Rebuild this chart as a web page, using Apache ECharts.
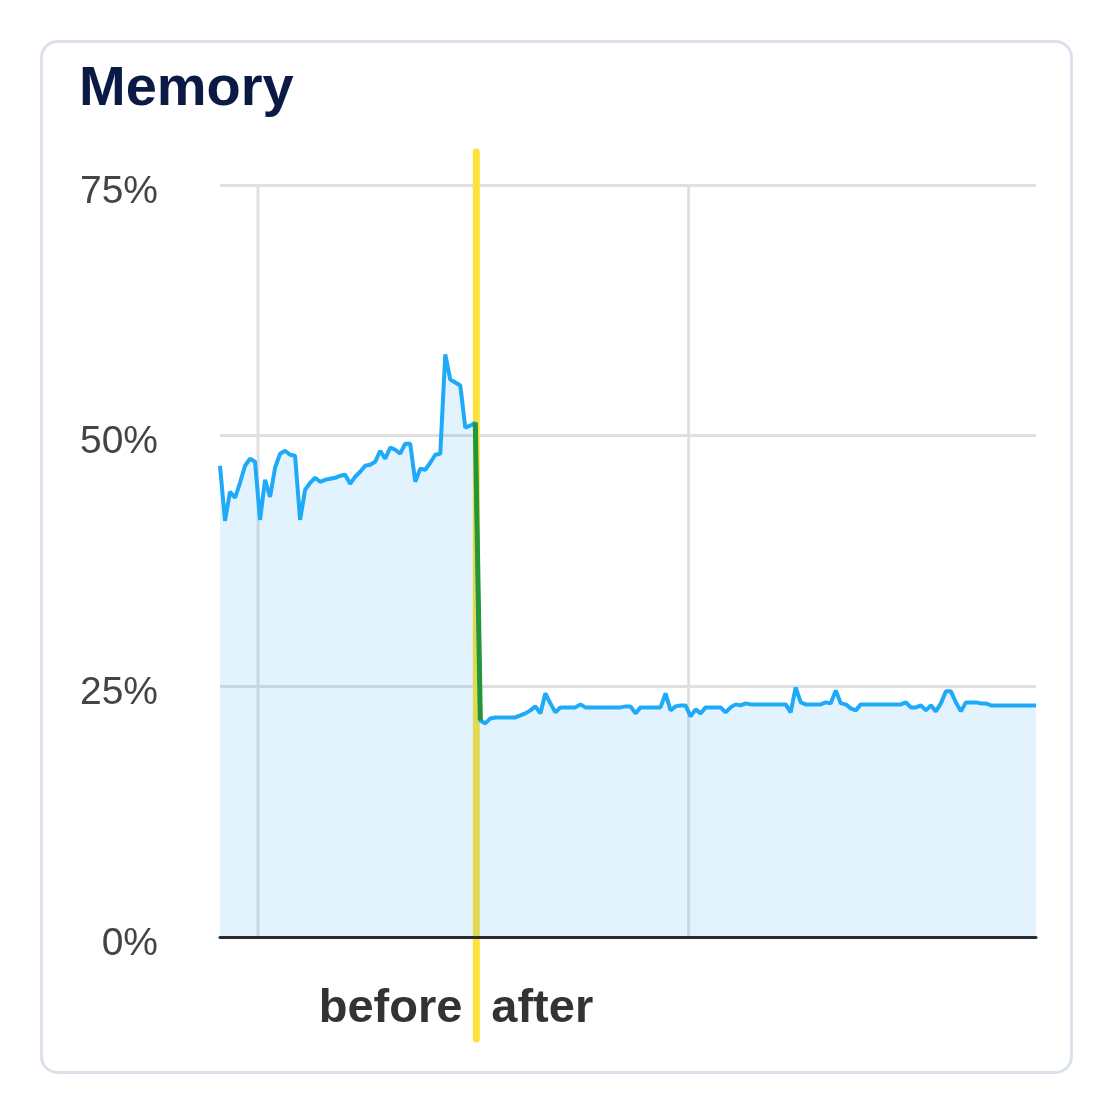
<!DOCTYPE html>
<html>
<head>
<meta charset="utf-8">
<title>Memory</title>
<script src="https://cdn.jsdelivr.net/npm/echarts@6/dist/echarts.min.js"></script>
<style>
    html, body { margin: 0; padding: 0; background: #fff; }
    #memory { width: 1113px; height: 1113px; }
</style>
</head>
<body>
<div id="memory"></div>
<script>
// memory use in percent, one sample per step, before and after the change
var beforePct = [
    47.0, 41.5, 44.4, 43.8, 45.3, 47.0, 47.7, 47.4, 41.6, 45.6,
    43.9, 46.8, 48.2, 48.5, 48.1, 48.0, 41.6, 44.6, 45.3, 45.8,
    45.4, 45.6, 45.7, 45.8, 46.0, 46.1, 45.2, 45.9, 46.4, 47.0,
    47.1, 47.4, 48.5, 47.7, 48.8, 48.6, 48.2, 49.2, 49.2, 45.4,
    46.7, 46.6, 47.3, 48.1, 48.2, 58.1, 55.6, 55.3, 55.0, 50.8,
    51.0, 51.3
];
var afterPct = [
    21.6, 21.3, 21.8, 21.9, 21.9, 21.9, 21.9, 21.9, 22.1, 22.3,
    22.6, 23.0, 22.3, 24.3, 23.3, 22.4, 22.9, 22.9, 22.9, 22.9,
    23.2, 22.9, 22.9, 22.9, 22.9, 22.9, 22.9, 22.9, 22.9, 23.0,
    23.0, 22.3, 22.9, 22.9, 22.9, 22.9, 22.9, 24.3, 22.6, 23.0,
    23.1, 23.1, 22.0, 22.7, 22.3, 22.9, 22.9, 22.9, 22.9, 22.4,
    22.9, 23.2, 23.1, 23.3, 23.2, 23.2, 23.2, 23.2, 23.2, 23.2,
    23.2, 23.2, 22.4, 24.9, 23.4, 23.2, 23.2, 23.2, 23.2, 23.4,
    23.3, 24.6, 23.3, 23.2, 22.8, 22.6, 23.2, 23.2, 23.2, 23.2,
    23.2, 23.2, 23.2, 23.2, 23.2, 23.4, 22.9, 22.9, 23.1, 22.6,
    23.1, 22.5, 23.3, 24.5, 24.5, 23.4, 22.5, 23.4, 23.4, 23.4,
    23.3, 23.3, 23.1, 23.1, 23.1, 23.1, 23.1, 23.1, 23.1, 23.1,
    23.1, 23.1
];
var yTicks = [0, 25, 50, 75];
var timeGrid = [7.6, 93.6];   // vertical grid lines (sample index)
var changeAt = 51.2;          // where the change went in
var phaseLabels = ['before', 'after'];

(function(){
    var myChart = echarts.init(document.getElementById("memory"))
    var font = 'Liberation Sans, Arial, Helvetica, sans-serif';

    var all = beforePct.concat(afterPct);
    var lineData = all.map(function (v, i) {
        return [i, v];
    });
    var n = beforePct.length;
    var dropData = [[n - 1, beforePct[n - 1]], [n, afterPct[0]]];

    option = {
        animation: false,
        title: {
            text: 'Memory',
            left: 74,
            top: 57,
            textStyle: {
                fontFamily: font,
                fontSize: 56,
                fontWeight: 'bold',
                color: '#0a1a45'
            }
        },
        grid: {
            left: 220,
            right: 77,
            top: 185,
            bottom: 176
        },
        xAxis: {
            type: 'value',
            min: 0,
            max: all.length - 1,
            z: 5,
            axisLine: {
                show: true,
                onZero: false,
                lineStyle: { color: '#2b2b2b', width: 3 }
            },
            axisTick: { show: false },
            axisLabel: { show: false },
            splitLine: { show: false }
        },
        yAxis: {
            type: 'value',
            min: yTicks[0],
            max: yTicks[yTicks.length - 1],
            interval: 25,
            axisLine: { show: false },
            axisTick: { show: false },
            axisLabel: {
                formatter: '{value}%',
                fontFamily: font,
                fontSize: 39,
                color: '#444',
                margin: 62,
                verticalAlign: 'top',
                lineHeight: 14
            },
            splitLine: {
                lineStyle: { color: '#e0e0e0', width: 3 }
            }
        },
        series: [
            {
                name: 'memory',
                type: 'line',
                z: 2,
                symbol: 'none',
                data: lineData,
                lineStyle: { color: '#1eaaf8', width: 4 },
                areaStyle: { color: 'rgba(30,165,245,0.13)', opacity: 1 }
            },
            {
                name: 'drop',
                type: 'line',
                z: 3,
                symbol: 'none',
                data: dropData,
                lineStyle: { color: '#23963a', width: 5 }
            }
        ]
    };
    myChart.setOption(option)

    // card frame, vertical grid lines, the change marker and its labels
    var top = myChart.convertToPixel({ yAxisIndex: 0 }, yTicks[yTicks.length - 1]);
    var bottom = myChart.convertToPixel({ yAxisIndex: 0 }, yTicks[0]);
    var mx = myChart.convertToPixel({ xAxisIndex: 0 }, changeAt);
    var graphic = [{
        type: 'rect',
        z: 0,
        shape: { x: 41.5, y: 41.5, width: 1030, height: 1031, r: 16 },
        style: { fill: 'none', stroke: '#d9e2ec', lineWidth: 3 }
    }];
    timeGrid.forEach(function (t) {
        var gx = myChart.convertToPixel({ xAxisIndex: 0 }, t);
        graphic.push({
            type: 'line',
            z: 1,
            shape: { x1: gx, y1: top, x2: gx, y2: bottom },
            style: { stroke: '#e0e0e0', lineWidth: 3 }
        });
    });
    graphic.push({
        type: 'line',
        z: 1,
        shape: { x1: mx, y1: 152, x2: mx, y2: 1039 },
        style: { stroke: '#fde23a', lineWidth: 7, lineCap: 'round' }
    });
    graphic.push({
        type: 'text',
        z: 4,
        x: mx - 14,
        y: 1009,
        style: {
            text: phaseLabels[0],
            fill: '#333',
            font: 'bold 47px ' + font,
            textAlign: 'right',
            textVerticalAlign: 'middle'
        }
    });
    graphic.push({
        type: 'text',
        z: 4,
        x: mx + 15,
        y: 1009,
        style: {
            text: phaseLabels[1],
            fill: '#333',
            font: 'bold 47px ' + font,
            textAlign: 'left',
            textVerticalAlign: 'middle'
        }
    });
    myChart.setOption({ graphic: graphic })
})()
</script>
</body>
</html>
